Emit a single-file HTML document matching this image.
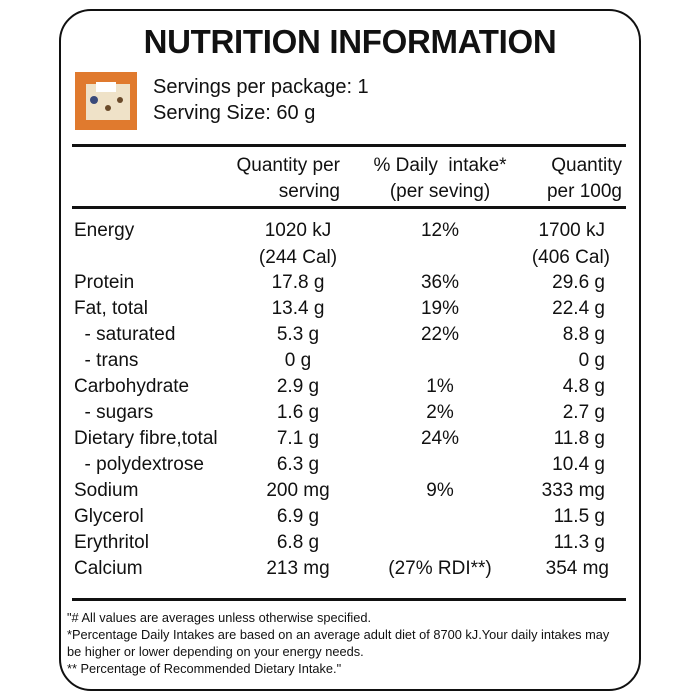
<!DOCTYPE html>
<html><head><meta charset="utf-8"><style>
body{margin:0;width:700px;height:700px;background:#fff;position:relative;font-family:"Liberation Sans",sans-serif;color:#111;overflow:hidden}
.box{position:absolute;left:59px;top:9px;width:578px;height:678px;border:2.5px solid #111;border-radius:32px}
.t{position:absolute;white-space:nowrap;font-size:19px;line-height:20px}
.c2{position:absolute;width:160px;left:218px;text-align:center}
.c3{position:absolute;width:160px;left:360px;text-align:center}
.c4{position:absolute;width:200px;left:405px;text-align:right}
.hr{position:absolute;left:72px;width:554px;height:3px;background:#111}
.fn{position:absolute;left:67px;font-size:12.8px;line-height:17px;white-space:nowrap}
</style></head><body>
<div class="box"></div>
<div class="t" style="left:0;width:700px;text-align:center;top:24px;font-size:33px;line-height:36px;font-weight:bold;letter-spacing:-0.3px">NUTRITION INFORMATION</div>
<svg style="position:absolute;left:74px;top:70px" width="64" height="62"><rect x="1" y="2" width="62" height="58" fill="#e07a2e"/><rect x="12" y="14" width="44" height="36" fill="#efe2c8"/><circle cx="20" cy="30" r="4" fill="#3a4a7a"/><circle cx="34" cy="38" r="3" fill="#6a4a2a"/><circle cx="46" cy="30" r="3" fill="#6a4a2a"/><rect x="22" y="12" width="20" height="10" fill="#fff"/></svg>
<div class="t" style="left:153px;top:77px;font-size:20px">Servings per package: 1</div>
<div class="t" style="left:153px;top:103px;font-size:20px">Serving Size: 60 g</div>
<div class="hr" style="top:144px"></div>
<div class="t" style="left:180px;width:160px;text-align:right;top:153px;line-height:26px">Quantity per<br>serving</div>
<div class="t" style="left:340px;width:200px;text-align:center;top:153px;line-height:26px">% Daily&nbsp; intake*<br>(per seving)</div>
<div class="t" style="left:462px;width:160px;text-align:right;top:153px;line-height:26px">Quantity<br>per 100g</div>
<div class="hr" style="top:206px"></div>
<div style="position:absolute;left:0;top:221px;width:700px">
<div class="t" style="left:74px;top:0">Energy</div><div class="t c2" style="top:0">1020 kJ</div><div class="t c3" style="top:0">12%</div><div class="t c4" style="top:0">1700 kJ</div>
<div class="t c2" style="top:27px">(244 Cal)</div><div class="t c4" style="top:27px;left:410px">(406 Cal)</div>
<div class="t" style="left:74px;top:52px">Protein</div><div class="t c2" style="top:52px">17.8 g</div><div class="t c3" style="top:52px">36%</div><div class="t c4" style="top:52px">29.6 g</div>
<div class="t" style="left:74px;top:78px">Fat, total</div><div class="t c2" style="top:78px">13.4 g</div><div class="t c3" style="top:78px">19%</div><div class="t c4" style="top:78px">22.4 g</div>
<div class="t" style="left:74px;top:104px">&nbsp; - saturated</div><div class="t c2" style="top:104px">5.3 g</div><div class="t c3" style="top:104px">22%</div><div class="t c4" style="top:104px">8.8 g</div>
<div class="t" style="left:74px;top:130px">&nbsp; - trans</div><div class="t c2" style="top:130px">0 g</div><div class="t c4" style="top:130px">0 g</div>
<div class="t" style="left:74px;top:156px">Carbohydrate</div><div class="t c2" style="top:156px">2.9 g</div><div class="t c3" style="top:156px">1%</div><div class="t c4" style="top:156px">4.8 g</div>
<div class="t" style="left:74px;top:182px">&nbsp; - sugars</div><div class="t c2" style="top:182px">1.6 g</div><div class="t c3" style="top:182px">2%</div><div class="t c4" style="top:182px">2.7 g</div>
<div class="t" style="left:74px;top:208px">Dietary fibre,total</div><div class="t c2" style="top:208px">7.1 g</div><div class="t c3" style="top:208px">24%</div><div class="t c4" style="top:208px">11.8 g</div>
<div class="t" style="left:74px;top:234px">&nbsp; - polydextrose</div><div class="t c2" style="top:234px">6.3 g</div><div class="t c4" style="top:234px">10.4 g</div>
<div class="t" style="left:74px;top:260px">Sodium</div><div class="t c2" style="top:260px">200 mg</div><div class="t c3" style="top:260px">9%</div><div class="t c4" style="top:260px">333 mg</div>
<div class="t" style="left:74px;top:286px">Glycerol</div><div class="t c2" style="top:286px">6.9 g</div><div class="t c4" style="top:286px">11.5 g</div>
<div class="t" style="left:74px;top:312px">Erythritol</div><div class="t c2" style="top:312px">6.8 g</div><div class="t c4" style="top:312px">11.3 g</div>
<div class="t" style="left:74px;top:338px">Calcium</div><div class="t c2" style="top:338px">213 mg</div><div class="t c3" style="top:338px">(27% RDI**)</div><div class="t c4" style="top:338px;left:409px">354 mg</div>
</div>
<div class="hr" style="top:598px"></div>
<div class="fn" style="top:609px">"# All values are averages unless otherwise specified.</div>
<div class="fn" style="top:626px">*Percentage Daily Intakes are based on an average adult diet of 8700 kJ.Your daily intakes may</div>
<div class="fn" style="top:643px">be higher or lower depending on your energy needs.</div>
<div class="fn" style="top:660px">** Percentage of Recommended Dietary Intake."</div>
</body></html>
